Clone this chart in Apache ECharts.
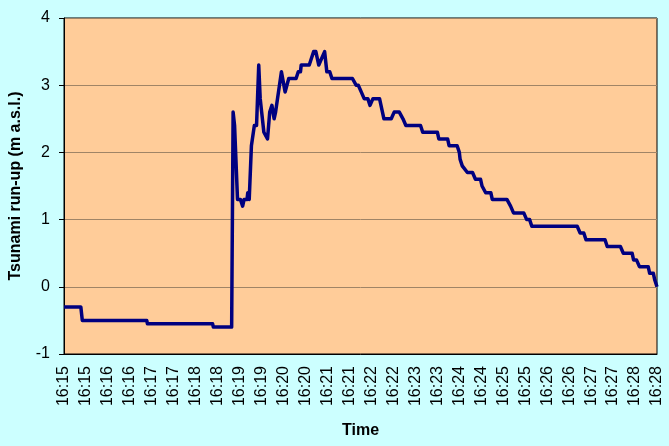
<!DOCTYPE html>
<html>
<head>
<meta charset="utf-8">
<script src="https://cdn.jsdelivr.net/npm/echarts@6/dist/echarts.min.js"></script>
<style>
html,body{margin:0;padding:0;background:#CCFFFF;}
#c{width:669px;height:446px;}
</style>
</head>
<body>
<div id="c"></div>
<script>
// time in seconds after 16:15:00
const times = [0,23,25,113,114,203,204,229,231,233,237,241,244,246,250,251,253,256,258,260,263,266,268,270,273,275,278,281,284,287,289,291,297,302,307,317,320,323,324,335,338,341,344,348,350,356,358,359,363,366,394,399,402,406,410,415,418,422,431,435,437,447,451,458,463,464,467,487,490,510,512,524,526,537,540,541,544,546,551,558,562,569,571,576,583,585,605,610,614,628,632,636,639,701,705,710,713,739,742,760,764,776,778,782,786,798,800,805,807,810];
const runup = [-0.3,-0.3,-0.5,-0.5,-0.55,-0.55,-0.6,-0.6,2.6,2.4,1.3,1.3,1.2,1.3,1.3,1.4,1.3,2.1,2.1,2.4,2.4,3.3,2.8,2.6,2.3,2.3,2.2,2.6,2.7,2.5,2.6,2.6,3.2,2.9,3.1,3.1,3.2,3.2,3.3,3.3,3.4,3.5,3.5,3.3,3.3,3.5,3.3,3.2,3.2,3.1,3.1,3.0,3.0,2.9,2.8,2.8,2.7,2.8,2.8,2.6,2.5,2.5,2.6,2.6,2.5,2.5,2.4,2.4,2.3,2.3,2.2,2.2,2.1,2.1,2.0,1.9,1.8,1.8,1.7,1.7,1.6,1.6,1.5,1.4,1.4,1.3,1.3,1.2,1.1,1.1,1.0,1.0,0.9,0.9,0.8,0.8,0.7,0.7,0.6,0.6,0.5,0.5,0.4,0.4,0.3,0.3,0.2,0.2,0.1,0.0];
const xTickLabels = ['16:15','16:15','16:16','16:16','16:17','16:17','16:18','16:18','16:19','16:19','16:20','16:20','16:21','16:21','16:22','16:22','16:23','16:23','16:24','16:24','16:25','16:25','16:26','16:26','16:27','16:27','16:28','16:28'];
const yTicks = [-1,0,1,2,3,4];

const chart = echarts.init(document.getElementById('c'));
const font = 'Liberation Sans, Arial, sans-serif';
chart.setOption({
  backgroundColor: '#CCFFFF',
  animation: false,
  grid: {left: 62, right: 12, top: 18, bottom: 92, show: true, backgroundColor: '#FFCC99', borderColor: '#000', borderWidth: 1},
  xAxis: {
    type: 'value', min: 0, max: 810, interval: 30,
    name: 'Time', nameLocation: 'middle', nameGap: 69,
    nameTextStyle: {fontFamily: font, fontWeight: 'bold', fontSize: 16, color: '#000'},
    axisLine: {show: true, onZero: false, lineStyle: {color: '#000'}},
    axisTick: {show: false},
    splitLine: {show: false},
    axisLabel: {rotate: 90, fontFamily: font, fontSize: 16, color: '#000', margin: 12,
      formatter: v => xTickLabels[Math.round(v / 30)] || ''}
  },
  yAxis: {
    type: 'value', min: yTicks[0], max: yTicks[yTicks.length - 1], interval: 1,
    name: 'Tsunami run-up (m a.s.l.)', nameLocation: 'middle', nameGap: 40,
    nameTextStyle: {fontFamily: font, fontWeight: 'bold', fontSize: 16, color: '#000'},
    axisLine: {show: true, lineStyle: {color: '#000'}},
    axisTick: {show: true, length: 5, lineStyle: {color: '#000'}},
    splitLine: {show: true, lineStyle: {color: '#A08466', width: 1}},
    axisLabel: {fontFamily: font, fontSize: 16, color: '#000', margin: 14}
  },
  series: [{
    type: 'line', showSymbol: false, symbol: 'none',
    data: times.map((t, i) => [t, runup[i]]),
    lineStyle: {color: '#000080', width: 3.5, join: 'round'},
    clip: false
  }]
});
</script>
</body>
</html>
